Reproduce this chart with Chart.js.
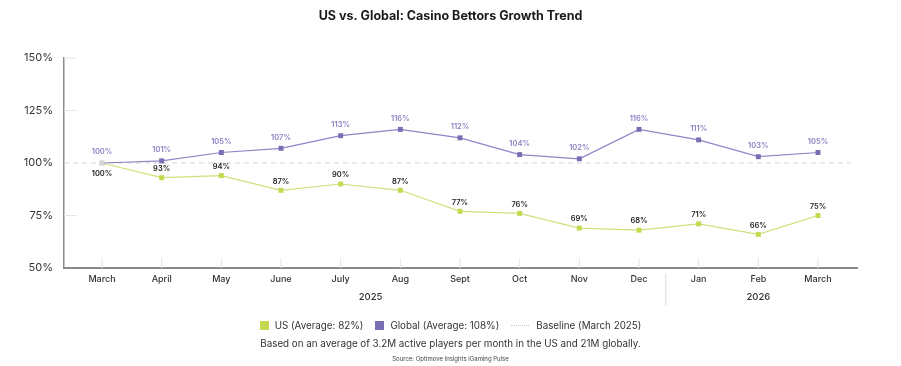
<!DOCTYPE html>
<html>
<head>
<meta charset="utf-8">
<script src="https://cdn.jsdelivr.net/npm/chart.js@4.4.1/dist/chart.umd.min.js"></script>
<style>
  body { margin: 0; background: #fff; font-family: Inter, "Noto Sans", sans-serif; }
  #wrap { position: relative; width: 901px; height: 366px; }
  #chart { position: absolute; left: 0; top: 0; }
  .legend { position: absolute; top: 320px; left: 0; width: 901px; display: flex; justify-content: center; align-items: center; font-size: 9.8px; color: #333; }
  .legend .item { display: flex; align-items: center; margin: 0 6px; }
  .legend .box { width: 9px; height: 9px; margin-right: 6px; }
  .legend .dots { width: 18px; border-top: 1.5px dotted #ccc; margin-right: 7px; }
  .note { position: absolute; top: 338px; left: 0; width: 901px; text-align: center; font-size: 9.8px; color: #333; }
  .source { position: absolute; top: 355px; left: 0; width: 901px; text-align: center; font-size: 6px; color: #444; }
</style>
</head>
<body>
<div id="wrap">
  <canvas id="chart" width="901" height="366"></canvas>
  <div class="legend">
    <div class="item"><span class="box" style="background:#c5d84f"></span>US (Average: 82%)</div>
    <div class="item"><span class="box" style="background:#7b6db3"></span>Global (Average: 108%)</div>
    <div class="item"><span class="dots"></span>Baseline (March 2025)</div>
  </div>
  <div class="note">Based on an average of 3.2M active players per month in the US and 21M globally.</div>
  <div class="source">Source: Optimove Insights iGaming Pulse</div>
</div>
<script>
// Chart data
const chartTitle = 'US vs. Global: Casino Bettors Growth Trend';
const months = ['March', 'April', 'May', 'June', 'July', 'Aug', 'Sept', 'Oct', 'Nov', 'Dec', 'Jan', 'Feb', 'March'];
const usValues = [100, 93, 94, 87, 90, 87, 77, 76, 69, 68, 71, 66, 75];
const globalValues = [100, 101, 105, 107, 113, 116, 112, 104, 102, 116, 111, 103, 105];
const yTicks = [50, 75, 100, 125, 150];
const years = ['2025', '2026'];
const yearFirstMonth = [0, 10];
const yearLastMonth = [9, 12];
const baseline = 100;

const usColor = '#c5d84f';
const globalColor = '#7b6db3';
const firstPointColor = '#d4d4d4';

function toPoints(values) {
  return values.map((v, i) => ({ x: i, y: v }));
}

function pointColors(values, color) {
  return values.map((v, i) => i === 0 ? firstPointColor : color);
}

// Title, dashed baseline, short axis ticks, year row and value labels
const decorPlugin = {
  id: 'decor',
  beforeDatasetsDraw(chart) {
    const { ctx, chartArea, scales } = chart;
    const x = scales.x, y = scales.y;
    ctx.save();
    // title centred on the whole canvas
    ctx.textAlign = 'center';
    ctx.textBaseline = 'middle';
    ctx.fillStyle = '#1a1a1a';
    ctx.font = '700 12.5px Inter, sans-serif';
    ctx.fillText(chartTitle, chart.width / 2, 16);
    // baseline
    const by = y.getPixelForValue(baseline);
    ctx.strokeStyle = '#d6d6d6';
    ctx.lineWidth = 1.2;
    ctx.setLineDash([5, 4]);
    ctx.beginPath();
    ctx.moveTo(chartArea.left, by);
    ctx.lineTo(chartArea.right - 6, by);
    ctx.stroke();
    ctx.setLineDash([]);
    // short y ticks
    ctx.strokeStyle = '#e6e6e6';
    ctx.lineWidth = 1;
    yTicks.forEach(t => {
      if (t === baseline || t === yTicks[0]) return;
      const py = y.getPixelForValue(t);
      ctx.beginPath();
      ctx.moveTo(chartArea.left, py);
      ctx.lineTo(chartArea.left + 13, py);
      ctx.stroke();
    });
    // short x ticks
    months.forEach((m, i) => {
      const px = x.getPixelForValue(i);
      ctx.beginPath();
      ctx.moveTo(px, chartArea.bottom);
      ctx.lineTo(px, chartArea.bottom - 10);
      ctx.stroke();
    });
    ctx.restore();
  },
  afterDatasetsDraw(chart) {
    const { ctx, chartArea, scales } = chart;
    const x = scales.x, y = scales.y;
    ctx.save();
    ctx.textAlign = 'center';
    ctx.textBaseline = 'middle';
    ctx.font = '600 7.5px Inter, sans-serif';
    globalValues.forEach((v, i) => {
      ctx.fillStyle = '#8a7fc2';
      ctx.fillText(v + '%', x.getPixelForValue(i), y.getPixelForValue(v) - 11);
    });
    usValues.forEach((v, i) => {
      ctx.fillStyle = '#222';
      const off = i === 0 ? 11 : -9;
      ctx.fillText(v + '%', x.getPixelForValue(i), y.getPixelForValue(v) + off);
    });
    // year row
    ctx.font = '500 9.5px Inter, sans-serif';
    ctx.fillStyle = '#333';
    years.forEach((yr, k) => {
      const cx = (x.getPixelForValue(yearFirstMonth[k]) + x.getPixelForValue(yearLastMonth[k])) / 2;
      ctx.fillText(yr, cx, chartArea.bottom + 29);
    });
    // separator between years
    const sx = (x.getPixelForValue(yearLastMonth[0]) + x.getPixelForValue(yearFirstMonth[1])) / 2 - 3;
    ctx.strokeStyle = '#dcdcdc';
    ctx.lineWidth = 1;
    ctx.beginPath();
    ctx.moveTo(sx, chartArea.bottom + 6);
    ctx.lineTo(sx, chartArea.bottom + 38);
    ctx.stroke();
    ctx.restore();
  }
};

const ctx = document.getElementById('chart').getContext('2d');
const chart = new Chart(ctx, {
  type: 'line',
  data: {
    datasets: [
      {
        label: 'Global',
        data: toPoints(globalValues),
        borderColor: '#8f84c6',
        borderWidth: 1.2,
        pointStyle: 'rect',
        pointRadius: 3.5,
        pointBackgroundColor: pointColors(globalValues, globalColor),
        pointBorderWidth: 0,
        tension: 0
      },
      {
        label: 'US',
        data: toPoints(usValues),
        borderColor: '#cfe07a',
        borderWidth: 1.2,
        pointStyle: 'rect',
        pointRadius: 3.5,
        pointBackgroundColor: pointColors(usValues, usColor),
        pointBorderWidth: 0,
        tension: 0
      }
    ]
  },
  options: {
    responsive: false,
    animation: false,
    layout: { padding: { left: 0, right: 44, top: 58, bottom: 78 } },
    plugins: {
      legend: { display: false },
      tooltip: { enabled: false },
      title: { display: false }
    },
    scales: {
      x: {
        type: 'linear',
        min: -0.637,
        max: 12.654,
        afterBuildTicks: (scale) => { scale.ticks = months.map((m, i) => ({ value: i })); },
        afterFit: (scale) => { scale.height = 20; scale.paddingLeft = 0; scale.paddingRight = 0; },
        grid: { display: false, drawTicks: false },
        border: { color: '#8a8a8a', width: 2 },
        ticks: {
          autoSkip: false,
          maxRotation: 0,
          padding: 6,
          color: '#333',
          font: { family: 'Inter', size: 9, weight: '500' },
          callback: (v) => months[v]
        }
      },
      y: {
        min: 50,
        max: 150,
        afterBuildTicks: (scale) => { scale.ticks = yTicks.map(v => ({ value: v })); },
        afterFit: (scale) => { scale.width = 64; scale.paddingTop = 0; scale.paddingBottom = 0; },
        grid: { display: false, drawTicks: false },
        border: { color: '#8a8a8a', width: 1.5 },
        ticks: {
          padding: 11,
          color: '#333',
          font: { family: 'Inter', size: 11 },
          callback: (v) => v + '%'
        }
      }
    }
  },
  plugins: [decorPlugin]
});
</script>
</body>
</html>
